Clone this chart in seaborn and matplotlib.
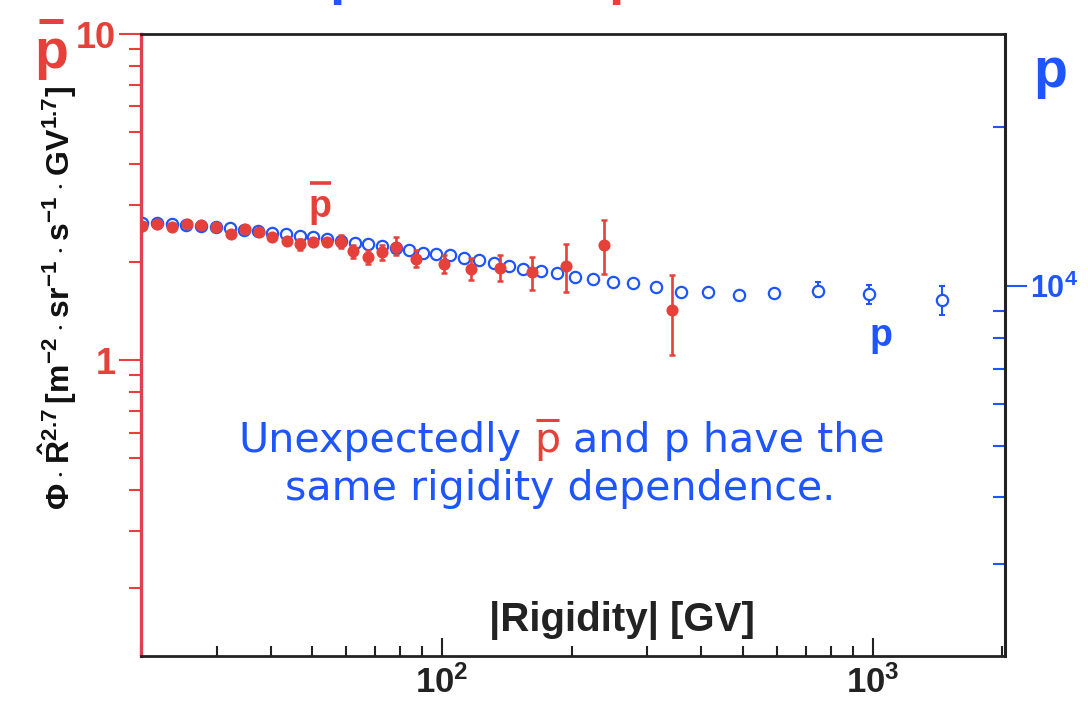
"""Antiproton and proton flux x R^2.7 vs rigidity (two log y axes)."""

import matplotlib
matplotlib.use("Agg")
import matplotlib.pyplot as plt
import matplotlib.ticker as mticker
from matplotlib.lines import Line2D
import numpy as np
import pandas as pd
import seaborn as sns

# ---- values ----
# antiprotons, left axis
pbar_R = [20.1, 21.8, 23.65, 25.6, 27.6, 29.8, 32.4, 34.8, 37.5, 40.2, 43.7,
          46.9, 50.2, 54.2, 58.4, 62.2, 67.4, 72.6, 78.2, 87.2, 100.9, 117,
          136.6, 161.8, 194.4, 237.2, 343]
pbar_flux = [2.58, 2.61, 2.56, 2.61, 2.60, 2.56, 2.44, 2.52, 2.47, 2.38, 2.32,
             2.27, 2.30, 2.30, 2.31, 2.16, 2.07, 2.14, 2.23, 2.05, 1.97, 1.91,
             1.92, 1.86, 1.94, 2.25, 1.43]
pbar_lo = [2.55, 2.58, 2.53, 2.58, 2.57, 2.53, 2.40, 2.48, 2.43, 2.34, 2.27,
           2.175, 2.25, 2.25, 2.21, 2.055, 1.97, 2.03, 2.10, 1.93, 1.85, 1.76,
           1.755, 1.64, 1.62, 1.835, 1.036]
pbar_hi = [2.61, 2.64, 2.59, 2.64, 2.63, 2.59, 2.48, 2.56, 2.51, 2.42, 2.37,
           2.35, 2.36, 2.36, 2.42, 2.25, 2.175, 2.25, 2.38, 2.175, 2.10, 2.055,
           2.10, 2.07, 2.27, 2.69, 1.82]

# protons, right axis
p_R = [20.15, 21.83, 23.65, 25.49, 27.6, 29.8, 32.25, 34.75, 37.46, 40.36,
       43.5, 46.9, 50.2, 54.2, 58.4, 62.9, 67.4, 72.7, 78.3, 84.0, 90.3, 97.0,
       104.5, 112.2, 121.6, 131.8, 142.8, 154.2, 169.8, 184.9, 203.9, 224.2,
       249.5, 277.6, 314.5, 358.8, 414.6, 488.4, 591.8, 745, 982, 1453]
p_flux = [13165, 13150, 13105, 13047, 12990, 12933, 12880, 12796, 12712,
          12626, 12545, 12462, 12379, 12299, 12190, 12083, 12003, 11925, 11821,
          11691, 11563, 11487, 11437, 11311, 11188, 11066, 10907, 10792, 10698,
          10590, 10436, 10313, 10209, 10132, 9986, 9770, 9739, 9625, 9696,
          9813, 9654, 9443]
p_err_minus = [0, 0, 0, 0, 0, 0, 0, 0, 0, 0, 0, 0, 0, 0, 0, 0, 0, 0, 0, 0, 0,
               0, 0, 0, 0, 0, 0, 0, 0, 0, 0, 0, 0, 0, 0, 0, 0, 0, 120, 285,
               404, 601]
p_err_plus = [0, 0, 0, 0, 0, 0, 0, 0, 0, 0, 0, 0, 0, 0, 0, 0, 0, 0, 0, 0, 0,
              0, 0, 0, 0, 0, 0, 0, 0, 0, 0, 0, 0, 0, 0, 0, 0, 0, 130, 364,
              422, 588]

x_ticks = [100, 1000]
left_ticks = [1, 10]
right_ticks = [1e4]

RED = "#e5413a"
SPINE_RED = "#e0414d"
BLUE = "#1e55ff"
INK = "#222222"
W, H = 1088, 705


def fx(px):
    return px / W


def fy(py):
    return 1 - py / H


sns.set_theme(style="white")
plt.rcParams["font.family"] = ["Liberation Sans", "DejaVu Sans"]
plt.rcParams["font.weight"] = "bold"
plt.rcParams["mathtext.fontset"] = "custom"
plt.rcParams["mathtext.rm"] = "Liberation Sans:bold"
plt.rcParams["mathtext.bf"] = "Liberation Sans:bold"
plt.rcParams["mathtext.it"] = "Liberation Sans:bold:italic"
plt.rcParams["mathtext.sf"] = "Liberation Sans:bold"

fig = plt.figure(figsize=(W / 100, H / 100), dpi=100)
ax = fig.add_axes([fx(141), fy(656), fx(1005) - fx(141), fy(34) - fy(656)])
ax2 = ax.twinx()
ax.set_zorder(ax2.get_zorder() + 1)
ax.patch.set_visible(False)

pbar = pd.DataFrame({"R": pbar_R, "flux": pbar_flux, "lo": pbar_lo, "hi": pbar_hi})
prot = pd.DataFrame({"R": p_R, "flux": p_flux, "em": p_err_minus, "ep": p_err_plus})

# protons: open blue circles on the right axis
perr = prot[prot["ep"] > 0]
ax2.errorbar(perr["R"], perr["flux"], yerr=[perr["em"], perr["ep"]], fmt="none",
             ecolor=BLUE, elinewidth=1.5, capsize=2.2, capthick=1.5)
sns.scatterplot(data=prot, x="R", y="flux", ax=ax2, marker="o", s=66,
                facecolor="white", edgecolor=BLUE, linewidth=1.6, zorder=3)

# antiprotons: filled red dots on the left axis
ax.errorbar(pbar["R"], pbar["flux"],
            yerr=[pbar["flux"] - pbar["lo"], pbar["hi"] - pbar["flux"]],
            fmt="none", ecolor=RED, elinewidth=1.9, capsize=2.4, capthick=1.8)
sns.scatterplot(data=pbar, x="R", y="flux", ax=ax, marker="o", s=76,
                color=RED, edgecolor=RED, linewidth=0, zorder=3)

ax.set_xscale("log")
ax.set_yscale("log")
ax2.set_yscale("log")
ax.set_xlim(20, 2030)
ax.set_ylim(0.124, 10)
ax2.set_ylim(2010, 29900)
for a in (ax, ax2):
    a.set_xlabel("")
    a.set_ylabel("")
    a.grid(False)

# x axis: ticks inside
ax.xaxis.set_major_locator(mticker.FixedLocator(x_ticks))
ax.xaxis.set_major_formatter(mticker.LogFormatterSciNotation())
ax.xaxis.set_minor_locator(mticker.LogLocator(base=10, subs=np.arange(2, 10), numticks=20))
ax.xaxis.set_minor_formatter(mticker.NullFormatter())
ax.tick_params(axis="x", which="major", direction="in", length=13, width=1.5,
               colors=INK, labelsize=25, pad=7, top=False, bottom=True)
ax.tick_params(axis="x", which="minor", direction="in", length=7.5, width=1.5,
               colors=INK, top=False, bottom=True)

# left axis (antiprotons): red, ticks outside
ax.yaxis.set_major_locator(mticker.FixedLocator(left_ticks))
ax.yaxis.set_major_formatter(mticker.FuncFormatter(lambda v, _: f"{v:g}"))
ax.yaxis.set_minor_locator(mticker.LogLocator(base=10, subs=np.arange(2, 10), numticks=20))
ax.yaxis.set_minor_formatter(mticker.NullFormatter())
ax.tick_params(axis="y", which="major", direction="out", length=16, width=1.5,
               colors=RED, labelsize=26, pad=2, left=True, right=False)
ax.tick_params(axis="y", which="minor", direction="out", length=9, width=1.5,
               colors=RED, left=True, right=False)

# right axis (protons): blue, minor ticks inside, major outside
ax2.yaxis.set_major_locator(mticker.FixedLocator(right_ticks))
ax2.yaxis.set_major_formatter(mticker.LogFormatterSciNotation())
ax2.yaxis.set_minor_locator(mticker.LogLocator(base=10, subs=np.arange(2, 10), numticks=20))
ax2.yaxis.set_minor_formatter(mticker.NullFormatter())
ax2.tick_params(axis="y", which="major", direction="out", length=16, width=1.5,
                colors=BLUE, labelsize=22, pad=2)
ax2.tick_params(axis="y", which="minor", direction="in", length=9, width=1.5,
                colors=BLUE)

for s in ("top", "bottom", "right"):
    ax.spines[s].set_color(INK)
    ax.spines[s].set_linewidth(2)
ax.spines["left"].set_color(SPINE_RED)
ax.spines["left"].set_linewidth(2.4)
for s in ("top", "bottom", "left"):
    ax2.spines[s].set_visible(False)
ax2.spines["right"].set_color(INK)
ax2.spines["right"].set_linewidth(2.2)

# ---- labels ----
fig.text(fx(622), fy(620), "|Rigidity| [GV]", ha="center", va="center",
         fontsize=29, color=INK)
fig.text(fx(58), fy(298),
         r"$\Phi\cdot\hat{\mathrm{R}}^{2.7}\,[\mathrm{m}^{-2}\cdot\mathrm{sr}^{-1}"
         r"\cdot\mathrm{s}^{-1}\cdot\mathrm{GV}^{1.7}]$",
         rotation=90, ha="center", va="center", fontsize=23, color="#111111")


def bar(x0, x1, y, color, lw):
    fig.add_artist(Line2D([fx(x0), fx(x1)], [fy(y), fy(y)], color=color,
                          lw=lw, transform=fig.transFigure, solid_capstyle="butt"))


# big axis titles
fig.text(fx(51), fy(68), "p", ha="center", va="baseline", fontsize=40, color=RED)
bar(39, 63, 21, RED, 3.6)
fig.text(fx(1050), fy(87), "p", ha="center", va="baseline", fontsize=40, color=BLUE)
# descenders of a title line that is cut off at the very top
fig.text(fx(329), fy(-7), "p", ha="left", va="baseline", fontsize=40, color=BLUE)
fig.text(fx(608), fy(-7), "p", ha="left", va="baseline", fontsize=40, color=RED)

# series labels inside the frame
fig.text(fx(320), fy(217), "p", ha="center", va="baseline", fontsize=27, color=RED)
bar(310, 331, 183, RED, 2.6)
fig.text(fx(881), fy(346), "p", ha="center", va="baseline", fontsize=27, color=BLUE)

# sentence with a red antiproton symbol
fig.canvas.draw()
renderer = fig.canvas.get_renderer()
kw = dict(fontsize=29.6, family="DejaVu Sans", fontweight="normal", va="baseline")


def text_width(s):
    t = fig.text(0, 0, s, **kw)
    w = t.get_window_extent(renderer).width
    t.remove()
    return w


space = text_width("n n") - text_width("nn")
x0 = 238
fig.text(fx(x0), fy(452), "Unexpectedly", color=BLUE, **kw)
xp = x0 + text_width("Unexpectedly") + space
fig.text(fx(xp), fy(452), "p", color=RED, **kw)
wp = text_width("p")
bar(xp + 2, xp + wp - 1, 420, RED, 2.2)
fig.text(fx(xp + wp + space), fy(452), "and p have the", color=BLUE, **kw)
fig.text(fx(560), fy(500), "same rigidity dependence.", color=BLUE, ha="center", **kw)

fig.savefig("out.png", dpi=100)
